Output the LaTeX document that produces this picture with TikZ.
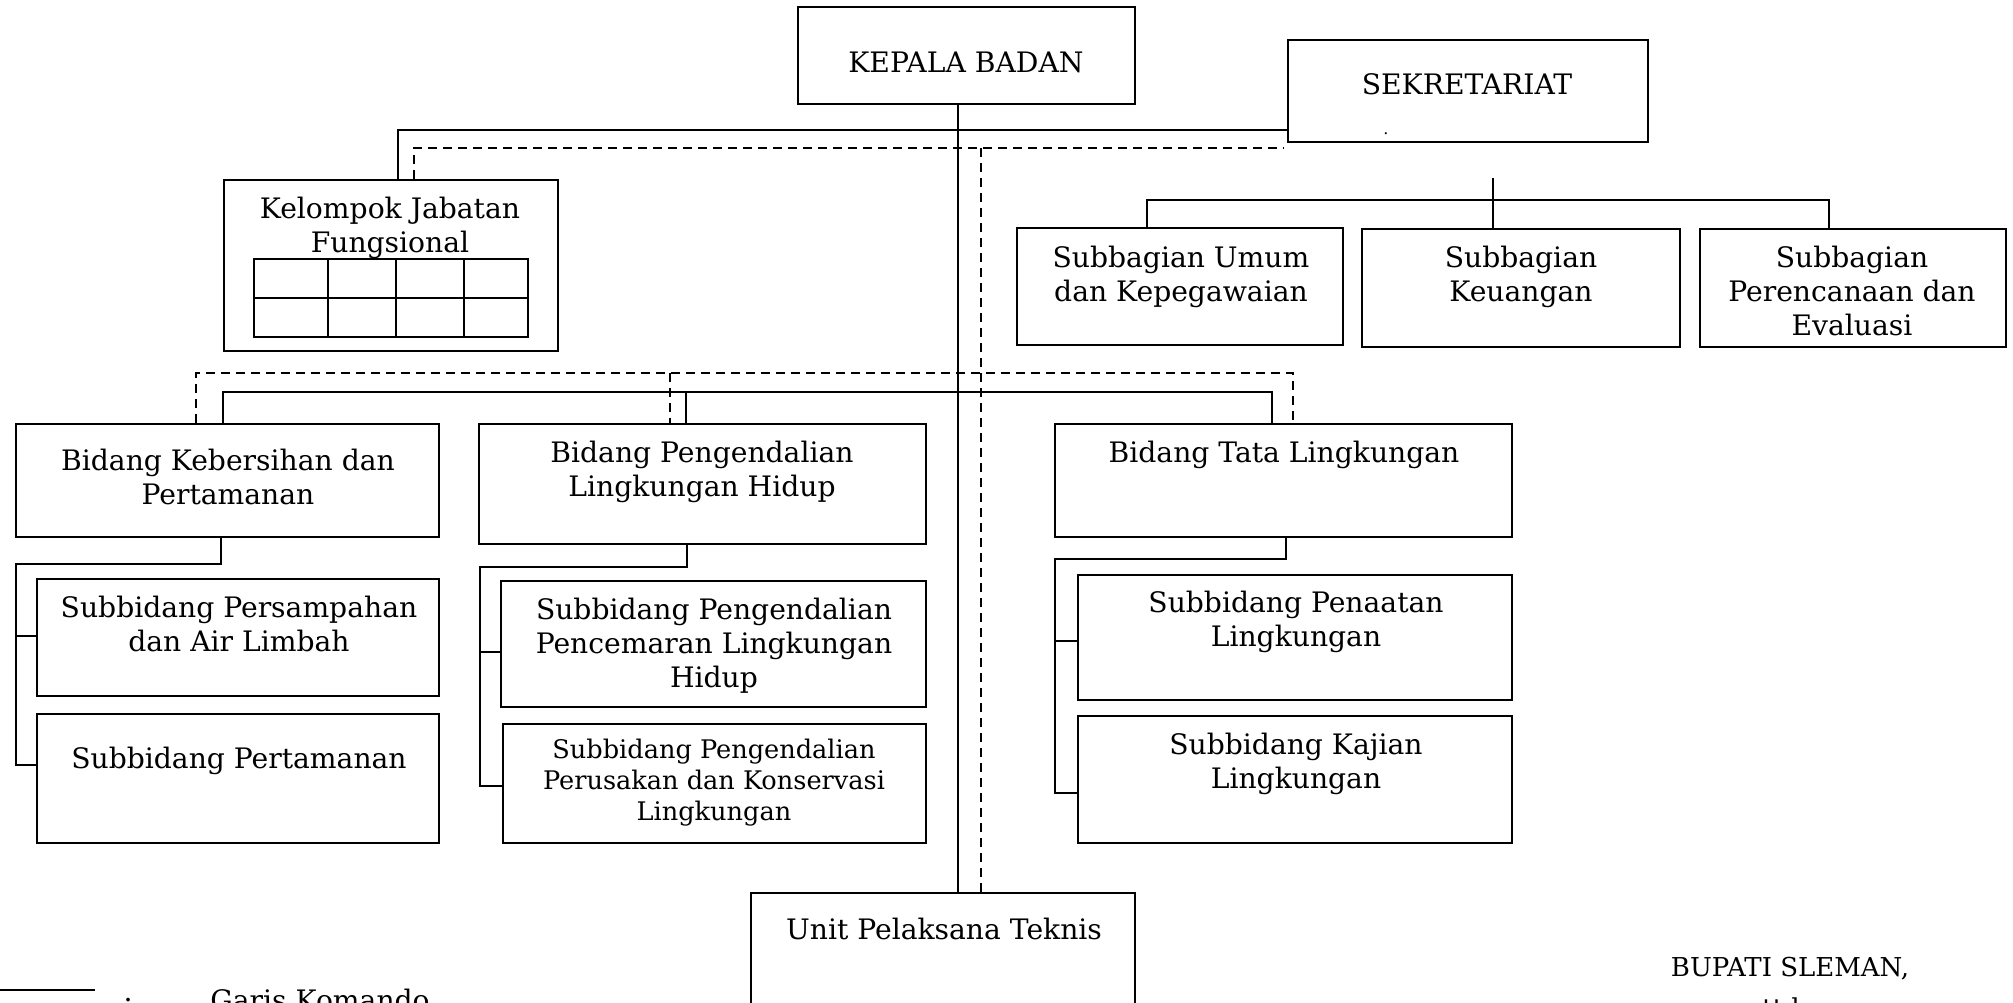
\documentclass[tikz,border=0pt]{standalone}
\usepackage{fontspec}
\setmainfont{DejaVu Serif}
\usetikzlibrary{fit}
\newcommand\orgbox[5]{\node[orgrect, fit={(#2,#3) (#4,#5)}] (#1) {};}
\tikzset{
  orgrect/.style={draw, rectangle, line width=1pt, inner sep=0pt},
  conn/.style={line width=0.8pt},
  dline/.style={line width=0.8pt, dash pattern=on 4.5pt off 3pt},
  txt/.style={anchor=base, align=center, inner sep=0pt, font=\fontsize{14.1}{17}\selectfont},
  txts/.style={anchor=base, align=center, inner sep=0pt, font=\fontsize{12.8}{15.4}\selectfont},
}
\begin{document}
\begin{tikzpicture}[x=0.5pt,y=-0.5pt]
\useasboundingbox (0,0) rectangle (2013,1002);
\clip (0,0) rectangle (2013,1002);
% boxes
\orgbox{kepala}{798}{7}{1135}{104}
\orgbox{sekre}{1288}{40}{1648}{142}
\orgbox{kjf}{224}{180}{558}{351}
\orgbox{sbumum}{1017}{228}{1343}{345}
\orgbox{sbkeu}{1362}{229}{1680}{347}
\orgbox{sbren}{1700}{229}{2006}{347}
\orgbox{bk}{16}{424}{439}{537}
\orgbox{bp}{479}{424}{926}{544}
\orgbox{bt}{1055}{424}{1512}{537}
\orgbox{sp1}{37}{579}{439}{696}
\orgbox{sp2}{37}{714}{439}{843}
\orgbox{pp1}{501}{581}{926}{707}
\orgbox{pp2}{503}{724}{926}{843}
\orgbox{pt1}{1078}{575}{1512}{700}
\orgbox{pt2}{1078}{716}{1512}{843}
\orgbox{upt}{751}{893}{1135}{1020}
% grid inside Kelompok Jabatan Fungsional
\orgbox{grid}{254}{259}{528}{337}
\draw[line width=1pt] (grid.west) -- (grid.east);
\foreach \gx/\gn in {328/ga,396/gb,464/gc}{
  \coordinate (\gn) at (\gx,259);
  \draw[line width=1pt] (grid.north -| \gn) -- (grid.south -| \gn);
}
% texts (anchor = baseline of the last line)
\node[txt] (tkepala) at (966,72) {KEPALA BADAN};
\node[txt] (tsekre) at (1467,94) {SEKRETARIAT};
\node[anchor=base, inner sep=0pt, font=\fontsize{8}{9}\selectfont] (tdot) at (1386,134) {.};
\node[txt] (tkjf) at (390,252) {Kelompok Jabatan\\Fungsional};
\node[txt] (tumum) at (1181,301) {Subbagian Umum\\dan Kepegawaian};
\node[txt] (tkeu) at (1521,301) {Subbagian\\Keuangan};
\node[txt] (tren) at (1852,335) {Subbagian\\Perencanaan dan\\Evaluasi};
\node[txt] (tbk) at (228,504) {Bidang Kebersihan dan\\Pertamanan};
\node[txt] (tbp) at (702,496) {Bidang Pengendalian\\Lingkungan Hidup};
\node[txt] (tbt) at (1284,462) {Bidang Tata Lingkungan};
\node[txt] (tsp1) at (239,651) {Subbidang Persampahan\\dan Air Limbah};
\node[txt] (tsp2) at (239,768) {Subbidang Pertamanan};
\node[txt] (tpp1) at (714,687) {Subbidang Pengendalian\\Pencemaran Lingkungan\\Hidup};
\node[txts] (tpp2) at (714,820) {Subbidang Pengendalian\\Perusakan dan Konservasi\\Lingkungan};
\node[txt] (tpt1) at (1296,646) {Subbidang Penaatan\\Lingkungan};
\node[txt] (tpt2) at (1296,788) {Subbidang Kajian\\Lingkungan};
\node[txt] (tupt) at (944,939) {Unit Pelaksana Teknis};
% connectors: top level
\coordinate (spK) at (958,104);
\draw[conn] (kepala.south -| spK) -- (upt.north -| spK);
\coordinate (jT) at (398,130);
\draw[conn] (kjf.north -| jT) -- (jT) -- (jT -| sekre.west);
\coordinate (jD) at (414,148);
\coordinate (jDe) at (1284,148);
\draw[dline] (kjf.north -| jD) -- (jD) -- (jDe);
\coordinate (dS) at (981,148);
\draw[dline] (dS) -- (upt.north -| dS);
% sekretariat subtree
\coordinate (sJ) at (1493,178);
\coordinate (sL) at (1147,200);
\coordinate (sR) at (1829,200);
\draw[conn] (sJ) -- (sbkeu.north -| sJ);
\draw[conn] (sbumum.north -| sL) -- (sL) -- (sR) -- (sbren.north -| sR);
% bidang level
\coordinate (bD1) at (196,373);
\coordinate (bD2) at (670,373);
\coordinate (bD3) at (1293,373);
\draw[dline] (bk.north -| bD1) -- (bD1) -- (bD3) -- (bt.north -| bD3);
\draw[dline] (bD2) -- (bp.north -| bD2);
\coordinate (bS1) at (223,392);
\coordinate (bS2) at (686,392);
\coordinate (bS3) at (1272,392);
\draw[conn] (bk.north -| bS1) -- (bS1) -- (bS3) -- (bt.north -| bS3);
\draw[conn] (bS2) -- (bp.north -| bS2);
% kebersihan subtree
\coordinate (k1) at (221,564);
\coordinate (k2) at (16,564);
\coordinate (k3) at (16,636);
\coordinate (k4) at (16,765);
\draw[conn] (bk.south -| k1) -- (k1) -- (k2) -- (k4) -- (k4 -| sp2.west);
\draw[conn] (k3) -- (k3 -| sp1.west);
% pengendalian subtree
\coordinate (p1) at (687,567);
\coordinate (p2) at (480,567);
\coordinate (p3) at (480,652);
\coordinate (p4) at (480,786);
\draw[conn] (bp.south -| p1) -- (p1) -- (p2) -- (p4) -- (p4 -| pp2.west);
\draw[conn] (p3) -- (p3 -| pp1.west);
% tata subtree
\coordinate (t1) at (1286,559);
\coordinate (t2) at (1055,559);
\coordinate (t3) at (1055,641);
\coordinate (t4) at (1055,793);
\draw[conn] (bt.south -| t1) -- (t1) -- (t2) -- (t4) -- (t4 -| pt2.west);
\draw[conn] (t3) -- (t3 -| pt1.west);
% legend and signature
\coordinate (lg1) at (0,990);
\coordinate (lg2) at (95,990);
\draw[conn] (lg1) -- (lg2);
\node[txt] (colon) at (128,1010) {:};
\node[txt, anchor=base west] (tgk) at (210,1010) {Garis Komando};
\node[anchor=base, inner sep=0pt, font=\fontsize{13}{15}\selectfont] (tbup) at (1790,976) {BUPATI SLEMAN,};
\node[anchor=base, inner sep=0pt, font=\fontsize{13}{15}\selectfont] (tttd) at (1785,1017) {ttd.};
\end{tikzpicture}
\end{document}
